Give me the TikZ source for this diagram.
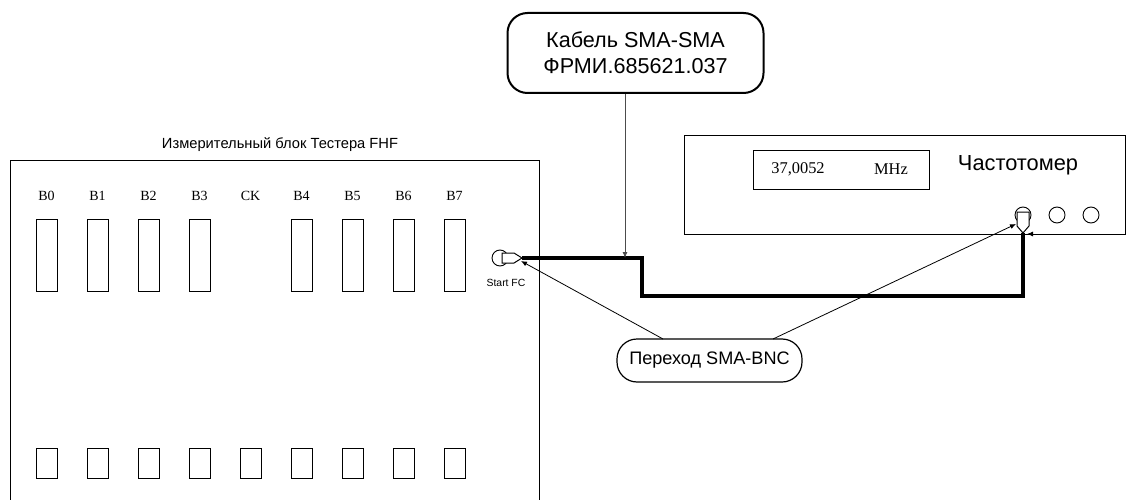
\documentclass[tikz,border=0pt]{standalone}
\usepackage{fontspec}
\setmainfont{Liberation Sans}
\newfontfamily\pinfont{Liberation Serif}
\usepackage{tikz}
\usetikzlibrary{
	positioning,
	arrows.meta
}
\tikzset{
	long slot/.style={draw,line width=0.9pt,minimum width=21pt,minimum height=72pt,inner sep=0pt},
	short slot/.style={draw,line width=0.9pt,minimum width=21pt,minimum height=30pt,inner sep=0pt},
	pin label/.style={font=\pinfont\fontsize{14}{16}\selectfont,inner sep=0pt,node distance=59pt},
	callout/.style={draw,align=center,inner sep=0pt},
	socket/.style={draw,circle,line width=0.9pt,minimum size=16pt,inner sep=0pt},
	leader/.style={line width=0.8pt,-{Latex[length=6pt,width=5pt]}},
	cable/.style={line width=4pt}
}

\begin{document}
\begin{tikzpicture}[x=1pt,y=-1pt,node distance=51pt]
		\useasboundingbox (0,0) rectangle (1126,500);

		% measuring unit
		\draw [line width=1pt] (10,500) -- (10,160) -- (539,160) -- (539,500);
		\node [font=\fontsize{14.7}{17}\selectfont,inner sep=0pt] (unit) at (280,145) {Измерительный блок Тестера FHF};

		\draw
			node [long slot] (b0) at (46.5,255) {}
			node [long slot,right of=b0] (b1) {}
			node [long slot,right of=b1] (b2) {}
			node [long slot,right of=b2] (b3) {}
			node [long slot,right of=b3,node distance=102pt] (b4) {}
			node [long slot,right of=b4] (b5) {}
			node [long slot,right of=b5] (b6) {}
			node [long slot,right of=b6] (b7) {}

			node [pin label,above of=b0] (lb0) {B0}
			node [pin label,above of=b1] (lb1) {B1}
			node [pin label,above of=b2] (lb2) {B2}
			node [pin label,above of=b3] (lb3) {B3}
			node [pin label,right of=lb3,node distance=51pt] (lck) {CK}
			node [pin label,above of=b4] (lb4) {B4}
			node [pin label,above of=b5] (lb5) {B5}
			node [pin label,above of=b6] (lb6) {B6}
			node [pin label,above of=b7] (lb7) {B7}

			node [short slot] (s0) at (46.5,463) {}
			node [short slot,right of=s0] (s1) {}
			node [short slot,right of=s1] (s2) {}
			node [short slot,right of=s2] (s3) {}
			node [short slot,right of=s3] (s4) {}
			node [short slot,right of=s4] (s5) {}
			node [short slot,right of=s5] (s6) {}
			node [short slot,right of=s6] (s7) {}
			node [short slot,right of=s7] (s8) {}
		;

		% frequency meter
		\draw [line width=1pt] (684,135) rectangle (1125,234);
		\draw [line width=1pt]
			node [draw,minimum width=176pt,minimum height=39pt,inner sep=0pt] (display) at (841,169.5) {}
			node [font=\pinfont\fontsize{16.4}{19}\selectfont,inner sep=0pt] (value) at (798,169) {37,0052}
			node [font=\pinfont\fontsize{16.4}{19}\selectfont,inner sep=0pt] (unitmhz) at (891,169) {MHz}
			node [font=\fontsize{21.8}{25}\selectfont,inner sep=0pt] (meter) at (1018,165) {Частотомер}
			node [socket] (in0) at (1023,215) {}
			node [socket] (in1) at (1057,215) {}
			node [socket] (in2) at (1091,215) {}
		;

		% start socket and the two adapters
		\node [socket] (start) at (500,258) {};
		\node [font=\fontsize{10.4}{12}\selectfont,inner sep=0pt] (startfc) at (506,283) {Start FC};
		\coordinate (tipl) at (522,258);
		\coordinate (tipr) at (1023,233);
		\coordinate (bendla) at (642,258);
		\coordinate (bendlb) at (642,296);
		\coordinate (bendr) at (1023,296);
		\coordinate (tapcable) at (625,258);
		\coordinate (tipar) at (521,261);
		\coordinate (tipbr) at (1016,224);
		\coordinate (straystart) at (1037,234);
		\coordinate (strayend) at (1027,234);
		\draw [line width=1pt,fill=white] (502,253) -- (514,253) -- (tipl) -- (514,263) -- (502,263) -- cycle;
		\draw [line width=1pt,fill=white] (1017,212) -- (1029,212) -- (1029,226) -- (tipr) -- (1017,226) -- cycle;

		\draw [cable,line join=miter] (tipl) -- (bendla) -- (bendlb) -- (bendr) -- (tipr);

		\draw
			node [callout,line width=2pt,rounded corners=20pt,minimum width=256pt,minimum height=80pt,font=\fontsize{21.6}{26}\selectfont] (cablebox) at (635.5,53) {Кабель SMA-SMA\\ФРМИ.685621.037}
			node [callout,line width=1.2pt,rounded corners=20pt,minimum width=185pt,minimum height=43pt,font=\fontsize{18.1}{21}\selectfont] (adapter) at (709.5,360.5) {Переход SMA-BNC}
		;
		\coordinate (cabletop) at (625,94);
		\coordinate (adapterl) at (663,339);
		\coordinate (adapterr) at (773,339);
		\draw [leader,black!70] (cabletop) -- (tapcable);
		\draw [leader] (adapterl) -- (tipar);
		\draw [leader] (adapterr) -- (tipbr);
		\draw [leader] (straystart) -- (strayend);
\end{tikzpicture}
\end{document}
